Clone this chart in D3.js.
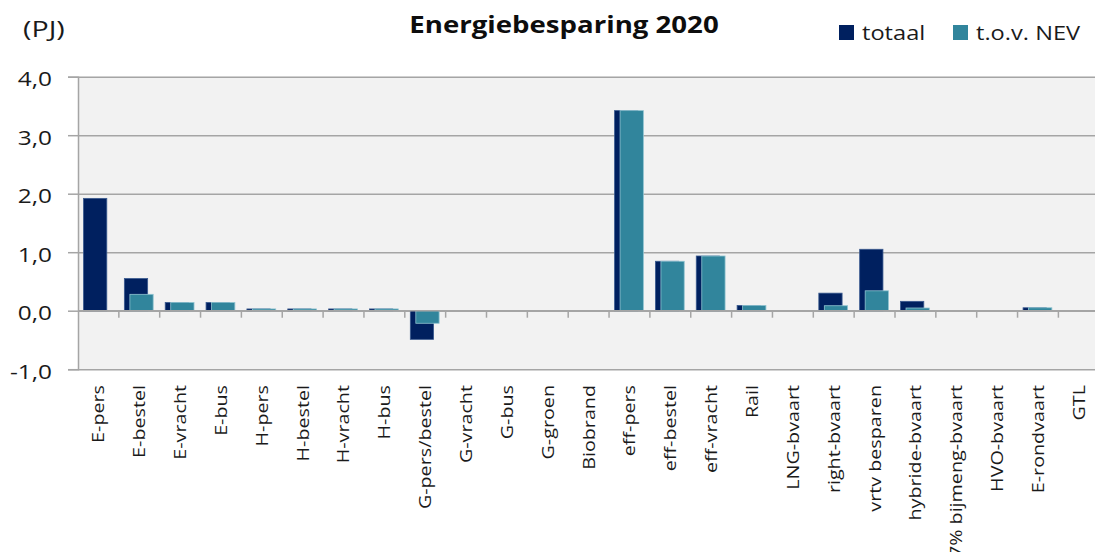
<!DOCTYPE html>
<html>
<head>
<meta charset="utf-8">
<script src="https://cdn.jsdelivr.net/npm/d3@7"></script>
<style>
  html, body { margin: 0; padding: 0; background: #ffffff; }
  svg { display: block; font-family: "Open Sans", "Noto Sans", sans-serif; }
</style>
</head>
<body>
<svg id="chart" width="1095" height="552"></svg>
<script>
// Energy savings 2020 per measure (PJ)
const categories = [
  "E-pers", "E-bestel", "E-vracht", "E-bus", "H-pers", "H-bestel", "H-vracht", "H-bus",
  "G-pers/bestel", "G-vracht", "G-bus", "G-groen", "Biobrand", "eff-pers", "eff-bestel",
  "eff-vracht", "Rail", "LNG-bvaart", "right-bvaart", "vrtv besparen", "hybride-bvaart",
  "7% bijmeng-bvaart", "HVO-bvaart", "E-rondvaart", "GTL"
];
const totaal = [
  1.92, 0.55, 0.14, 0.14, 0.03, 0.03, 0.03, 0.03,
  -0.49, 0, 0, 0, 0, 3.42, 0.845,
  0.935, 0.09, 0, 0.30, 1.05, 0.16,
  0, 0, 0.05, 0
];
const tovNEV = [
  0, 0.28, 0.14, 0.14, 0.03, 0.03, 0.03, 0.03,
  -0.215, 0, 0, 0, 0, 3.42, 0.845,
  0.935, 0.09, 0, 0.085, 0.34, 0.046,
  0, 0, 0.05, 0
];
const yTicks = [-1, 0, 1, 2, 3, 4];
const seriesNames = ["totaal", "t.o.v. NEV"];
const colors = ["#00205f", "#31859c"];

const svg = d3.select("#chart");
const plot = { left: 78, top: 76.7, bottom: 369.2, band: 40.85 };
plot.right = plot.left + plot.band * categories.length;

const x = d3.scaleBand().domain(categories).range([plot.left, plot.right]).padding(0);
const y = d3.scaleLinear().domain([-1, 4]).range([plot.bottom, plot.top]);

const gridColor = "#a5a5a5";

// widen glyphs along the text direction
function stretch(sel, k) {
  sel.each(function () {
    const w = this.getComputedTextLength();
    d3.select(this).attr("textLength", w * k).attr("lengthAdjust", "spacingAndGlyphs");
  });
}

// plot background
svg.append("rect")
  .attr("x", plot.left).attr("y", plot.top)
  .attr("width", plot.right - plot.left).attr("height", plot.bottom - plot.top)
  .attr("fill", "#f2f2f2");

// horizontal gridlines with y-axis ticks
const yAxis = d3.axisLeft(y).tickValues(yTicks).tickSize(10)
  .tickFormat(d => d3.format(".1f")(d).replace("\u2212", "-").replace(".", ","));
const gy = svg.append("g").attr("transform", `translate(${plot.left},0)`).call(yAxis);
gy.select(".domain").attr("stroke", gridColor).attr("stroke-width", 1.5);
gy.selectAll(".tick line").attr("stroke", gridColor).attr("stroke-width", 1.5);
gy.selectAll(".tick").append("line")
  .attr("x1", 0).attr("x2", plot.right - plot.left)
  .attr("stroke", gridColor).attr("stroke-width", 1.5);
gy.selectAll(".tick text")
  .attr("x", -26).attr("dy", "0.45em")
  .attr("font-size", 20).attr("fill", "#1a1a1a")
  .attr("font-family", "'Open Sans', sans-serif")
  .call(stretch, 1.22);

// bars: totaal first, t.o.v. NEV drawn overlapping on top
const bw = x.bandwidth();
const barW = bw * 0.57;
const offsets = [bw * 0.135, bw * 0.27];
[totaal, tovNEV].forEach((vals, si) => {
  svg.append("g").selectAll("rect")
    .data(categories.map((c, i) => ({ c, v: vals[i] })).filter(d => d.v !== 0))
    .join("rect")
    .attr("x", d => x(d.c) + offsets[si])
    .attr("width", barW)
    .attr("y", d => y(Math.max(0, d.v)))
    .attr("height", d => Math.abs(y(d.v) - y(0)))
    .attr("fill", colors[si])
    .attr("stroke", si === 0 ? "#3a5a8f" : "#8fc3d0")
    .attr("stroke-width", 0.8);
});

// category axis on the zero line
const xAxis = d3.axisBottom(x).tickSize(0).tickFormat(d => d);
const gx = svg.append("g").attr("transform", `translate(0,${y(0)})`).call(xAxis);
gx.select(".domain").remove();
gx.selectAll(".tick text").remove();
svg.append("g").selectAll("line")
  .data(categories.slice(1))
  .join("line")
  .attr("x1", d => x(d)).attr("x2", d => x(d))
  .attr("y1", y(0)).attr("y2", y(0) + 7)
  .attr("stroke", gridColor).attr("stroke-width", 1.5);
svg.append("line")
  .attr("x1", plot.left).attr("x2", plot.right)
  .attr("y1", y(0)).attr("y2", y(0))
  .attr("stroke", gridColor).attr("stroke-width", 1.5);

// rotated category labels below the plot
svg.append("g").selectAll("text")
  .data(categories)
  .join("text")
  .attr("transform", d => `translate(${x(d) + bw / 2},385) rotate(-90)`)
  .attr("text-anchor", "end")
  .attr("dy", "0.35em")
  .attr("font-size", 17)
  .attr("fill", "#1a1a1a")
  .text(d => d)
  .call(stretch, 1.16);

// title
svg.append("text")
  .attr("x", 564).attr("y", 33)
  .attr("text-anchor", "middle")
  .attr("font-size", 23).attr("font-weight", "bold")
  .attr("fill", "#0d0d0d")
  .text("Energiebesparing 2020")
  .call(stretch, 1.2);

// unit label
svg.append("text")
  .attr("x", 23).attr("y", 37)
  .attr("font-size", 22).attr("fill", "#1a1a1a")
  .text("(PJ)")
  .call(stretch, 1.3);

// legend
const legendX = [839, 953];
const legend = svg.append("g");
seriesNames.forEach((name, i) => {
  legend.append("rect")
    .attr("x", legendX[i]).attr("y", 25)
    .attr("width", 15).attr("height", 15)
    .attr("fill", colors[i]);
  legend.append("text")
    .attr("x", legendX[i] + 23).attr("y", 40)
    .attr("font-size", 20).attr("fill", "#1a1a1a")
    .text(name)
    .call(stretch, 1.18);
});
</script>
</body>
</html>
